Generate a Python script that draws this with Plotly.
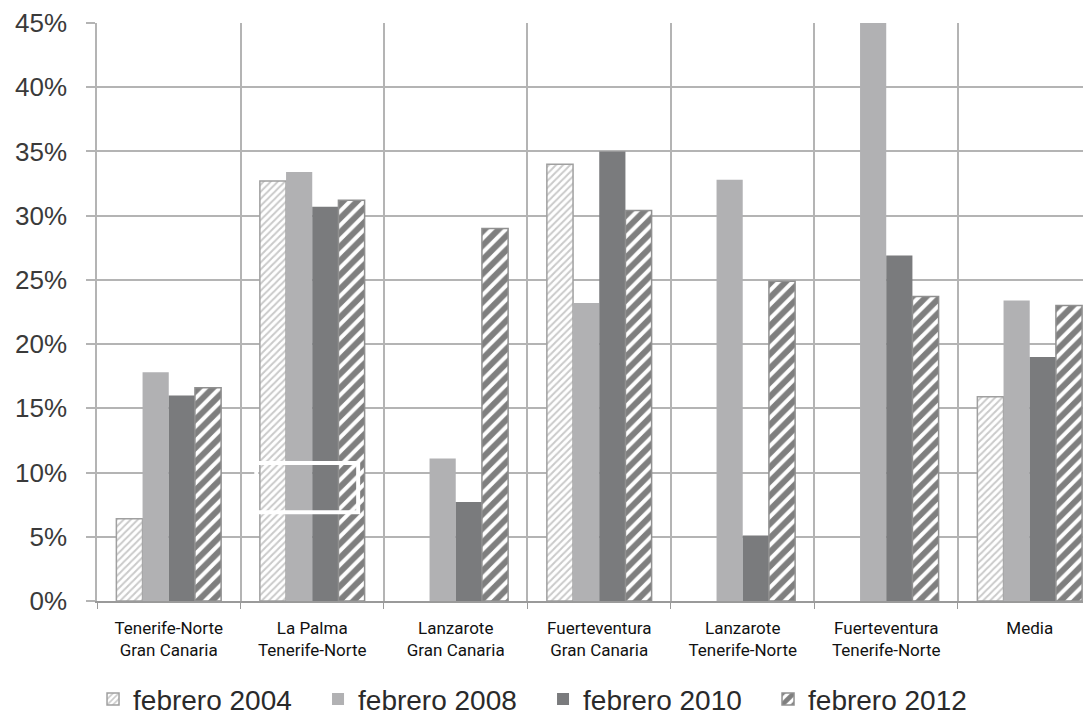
import plotly.graph_objects as go

categories = [
    "Tenerife-Norte<br>Gran Canaria",
    "La Palma<br>Tenerife-Norte",
    "Lanzarote<br>Gran Canaria",
    "Fuerteventura<br>Gran Canaria",
    "Lanzarote<br>Tenerife-Norte",
    "Fuerteventura<br>Tenerife-Norte",
    "Media",
]
feb2004 = [6.4, 32.7, None, 34.0, None, None, 15.9]
feb2008 = [17.8, 33.4, 11.1, 23.2, 32.8, 45.0, 23.4]
feb2010 = [16.0, 30.7, 7.7, 35.0, 5.1, 26.9, 19.0]
feb2012 = [16.6, 31.2, 29.0, 30.4, 24.9, 23.7, 23.0]
y_ticks = [0, 5, 10, 15, 20, 25, 30, 35, 40, 45]
y_labels = [f"{v}%" for v in y_ticks]

fig = go.Figure()
fig.add_trace(go.Bar(
    x=categories, y=feb2004, name="febrero 2004",
    marker=dict(color="white",
                pattern=dict(shape="/", fgcolor="#959595", bgcolor="white", size=5, solidity=0.4),
                line=dict(color="#a0a0a0", width=1.5)),
))
fig.add_trace(go.Bar(
    x=categories, y=feb2008, name="febrero 2008",
    marker=dict(color="#b1b1b3", line=dict(width=0)),
))
fig.add_trace(go.Bar(
    x=categories, y=feb2010, name="febrero 2010",
    marker=dict(color="#7a7b7d", line=dict(width=0)),
))
fig.add_trace(go.Bar(
    x=categories, y=feb2012, name="febrero 2012",
    marker=dict(color="white",
                pattern=dict(shape="/", fgcolor="#000000", bgcolor="white", size=10, solidity=0.6),
                line=dict(color="#909090", width=1.5)),
))

fig.update_layout(
    width=1083, height=707,
    paper_bgcolor="white", plot_bgcolor="white",
    margin=dict(l=89, r=0, t=15, b=114, autoexpand=False),
    barmode="group", bargap=0.27, bargroupgap=0,
    font=dict(family="Liberation Sans, Arial, sans-serif", color="#333333"),
    showlegend=True,
    legend=dict(orientation="h", x=-0.004, xanchor="left", y=-0.170, yanchor="middle",
                bgcolor="rgba(0,0,0,0)",
                font=dict(size=28, color="#2a2a2a", family="Liberation Sans, Arial, sans-serif"),
                itemwidth=30, traceorder="normal", entrywidth=180, entrywidthmode="pixels"),
    shapes=[dict(type="rect", xref="x", yref="y", x0=0.61, x1=1.32, y0=6.9, y1=10.75,
                 line=dict(color="white", width=4), fillcolor="rgba(0,0,0,0)", layer="above")],
)
fig.update_yaxes(
    range=[0, 45], tickmode="array", tickvals=y_ticks, ticktext=y_labels,
    showgrid=True, gridcolor="#b4b4b4", gridwidth=1.5,
    showline=True, linecolor="#b4b4b4", linewidth=1.5,
    ticks="outside", ticklen=9, tickcolor="#b4b4b4", tickwidth=1.5,
    tickfont=dict(size=26, color="#3a3a3a"), ticklabelstandoff=14,
    zeroline=False, automargin=False,
)
fig.update_xaxes(
    range=[-0.5, 6.427], tickson="boundaries", showgrid=True, gridcolor="#b4b4b4", gridwidth=1.5,
    showline=True, linecolor="#9a9a9a", linewidth=1.5, ticks="outside", ticklen=6, tickcolor="#9a9a9a",
    tickfont=dict(size=17, color="#111111", family="Liberation Sans Narrow, Roboto, sans-serif"),
    ticklabelstandoff=11, automargin=False,
)

fig.write_html("out.html")
